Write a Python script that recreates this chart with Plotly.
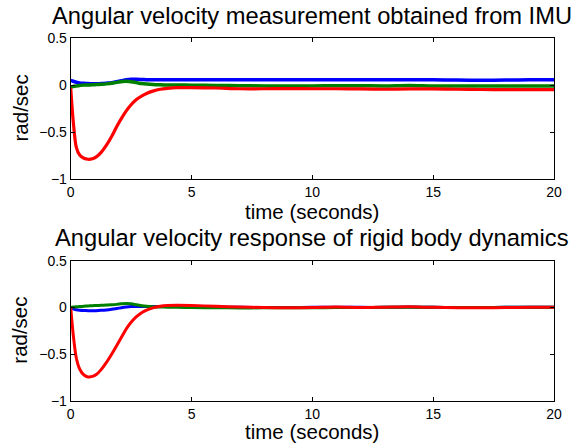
import plotly.graph_objects as go

# ---------------- data ----------------
# Top panel: IMU measurement
t_imu = [0, 0.1, 0.23, 0.37, 0.55, 0.72, 0.9, 1.06, 1.25, 1.48, 1.7, 1.9, 2.1, 2.3, 2.5, 2.72, 2.95, 3.14, 3.4, 3.7, 4.0, 4.4, 5, 6, 7, 8, 9, 10, 11, 12, 13, 14, 15, 16, 17, 18, 19, 20]
imu_red = [-0.03, -0.37, -0.66, -0.745, -0.78, -0.79, -0.785, -0.765, -0.72, -0.64, -0.545, -0.445, -0.355, -0.275, -0.21, -0.155, -0.115, -0.09, -0.065, -0.045, -0.035, -0.028, -0.028, -0.032, -0.04, -0.04, -0.038, -0.04, -0.04, -0.042, -0.045, -0.042, -0.042, -0.045, -0.048, -0.05, -0.05, -0.05]
imu_blue = [0.05, 0.04, 0.03, 0.022, 0.018, 0.015, 0.013, 0.012, 0.015, 0.02, 0.025, 0.035, 0.045, 0.055, 0.06, 0.06, 0.058, 0.056, 0.055, 0.055, 0.055, 0.055, 0.055, 0.055, 0.055, 0.055, 0.055, 0.055, 0.055, 0.055, 0.055, 0.055, 0.055, 0.052, 0.05, 0.052, 0.055, 0.055]
imu_green = [-0.02, -0.015, -0.01, -0.005, 0.0, 0.0, 0.002, 0.005, 0.008, 0.012, 0.018, 0.028, 0.035, 0.04, 0.035, 0.025, 0.015, 0.01, 0.005, 0.002, 0.0, 0.0, -0.002, -0.005, -0.008, -0.01, -0.01, -0.01, -0.008, -0.008, -0.01, -0.005, -0.01, -0.01, -0.01, -0.01, -0.01, -0.01]

# Bottom panel: rigid body dynamics response
t_rb = [0, 0.1, 0.23, 0.37, 0.55, 0.72, 0.9, 1.06, 1.25, 1.48, 1.7, 1.9, 2.1, 2.3, 2.5, 2.72, 2.95, 3.14, 3.4, 3.7, 4.0, 4.4, 5, 6, 7, 8, 9, 10, 11, 12, 13, 14, 15, 16, 17, 18, 19, 20]
rb_red = [0.0, -0.28, -0.54, -0.66, -0.725, -0.745, -0.74, -0.72, -0.67, -0.59, -0.5, -0.41, -0.32, -0.23, -0.16, -0.1, -0.055, -0.03, -0.005, 0.012, 0.02, 0.022, 0.02, 0.012, 0.004, -0.002, -0.004, -0.002, 0.004, -0.002, 0.002, 0.006, 0.0, -0.003, -0.004, -0.002, 0.0, 0.002]
rb_blue = [0.0, -0.015, -0.025, -0.03, -0.033, -0.035, -0.036, -0.035, -0.032, -0.027, -0.02, -0.012, -0.004, 0.003, 0.008, 0.01, 0.01, 0.01, 0.01, 0.01, 0.01, 0.008, 0.006, 0.003, 0.0, -0.002, -0.002, 0.0, 0.002, 0.0, 0.0, 0.003, 0.0, -0.002, -0.002, 0.0, 0.0, 0.0]
rb_green = [0.0, 0.003, 0.006, 0.009, 0.012, 0.015, 0.018, 0.02, 0.022, 0.025, 0.028, 0.032, 0.038, 0.042, 0.038, 0.028, 0.018, 0.012, 0.007, 0.004, 0.002, 0.0, -0.002, -0.004, -0.006, -0.005, -0.004, -0.004, -0.002, -0.002, 0.0, 0.002, 0.0, -0.002, -0.002, 0.0, 0.0, 0.0]

x_ticks = [0, 5, 10, 15, 20]
x_ticklabels = ["0", "5", "10", "15", "20"]
y_ticks = [-1, -0.5, 0, 0.5]
y_ticklabels = ["\u22121", "\u22120.5", "0", "0.5"]

title_top = "Angular velocity measurement obtained from IMU"
title_bottom = "Angular velocity response of rigid body dynamics"
x_label = "time (seconds)"
y_label = "rad/sec"

# ---------------- figure ----------------
W, H = 584, 447
FONT = "Liberation Sans, Arial, sans-serif"
BLUE, GREEN, RED = "rgb(0,0,255)", "rgb(0,128,0)", "rgb(255,0,0)"

fig = go.Figure()

def add(t, y, color, axis, width):
    fig.add_trace(go.Scatter(x=t, y=y, mode="lines", xaxis="x" + axis, yaxis="y" + axis,
                             line=dict(color=color, width=width, shape="spline", smoothing=0.8),
                             showlegend=False, hoverinfo="skip"))

add(t_imu, imu_blue, BLUE, "", 3.5)
add(t_imu, imu_green, GREEN, "", 3.5)
add(t_imu, imu_red, RED, "", 3.2)
add(t_rb, rb_blue, BLUE, "2", 3)
add(t_rb, rb_green, GREEN, "2", 3)
add(t_rb, rb_red, RED, "2", 3)

x0, x1 = 70.7 / W, 554 / W
top_dom = [1 - 179 / H, 1 - 38 / H]
bot_dom = [1 - 400.7 / H, 1 - 260.7 / H]

def xax(anchor):
    return dict(domain=[x0, x1], range=[0, 20], anchor=anchor, tickvals=x_ticks, ticktext=x_ticklabels,
                ticks="inside", ticklen=4, tickcolor="black", showline=True, linecolor="black", linewidth=1,
                mirror="ticks", showgrid=False, zeroline=False, automargin=False,
                tickfont=dict(family=FONT, size=14, color="black"), fixedrange=True)

def yax(anchor, dom):
    return dict(domain=dom, range=[-1, 0.5], anchor=anchor, tickvals=y_ticks, ticktext=y_ticklabels,
                ticks="inside", ticklen=4, tickcolor="black", showline=True, linecolor="black", linewidth=1,
                mirror="ticks", showgrid=False, zeroline=False, automargin=False,
                tickfont=dict(family=FONT, size=14, color="black"), fixedrange=True)

annotations = []
def ann(text, x, y, size, angle=0):
    annotations.append(dict(text=text, x=x / W, y=1 - y / H, xref="paper", yref="paper",
                            xanchor="center", yanchor="middle", showarrow=False, textangle=angle,
                            font=dict(family=FONT, size=size, color="black")))

cx = (70.7 + 554) / 2
ann(title_top, cx, 16, 23.7)
ann(title_bottom, cx, 238, 23.7)
ann(x_label, cx, 211, 20.5)
ann(x_label, cx, 431, 20.5)
ann(y_label, 20, 108.5, 20.5, -90)
ann(y_label, 20, 330.7, 20.5, -90)

fig.update_layout(
    width=W, height=H, margin=dict(l=0, r=0, t=0, b=0),
    paper_bgcolor="white", plot_bgcolor="white",
    xaxis=xax("y"), yaxis=yax("x", top_dom),
    xaxis2=xax("y2"), yaxis2=yax("x2", bot_dom),
    annotations=annotations,
)

fig.write_html("out.html", config=dict(displayModeBar=False),
               post_script="document.body.style.margin='0';document.body.style.overflow='hidden';")
